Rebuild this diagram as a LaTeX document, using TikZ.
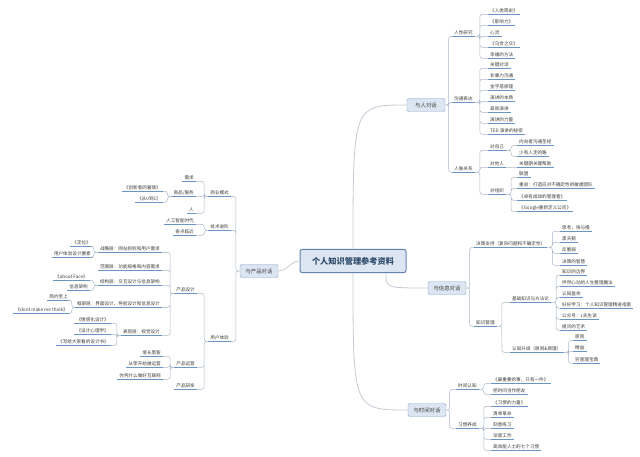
\documentclass[tikz,border=0pt]{standalone}
\usepackage{fontspec}
\setmainfont{Noto Sans CJK SC}
\definecolor{boxF}{HTML}{DCE6F2}
\definecolor{boxD}{HTML}{8AA6C8}
\definecolor{rootD}{HTML}{6283AE}
\definecolor{rootT}{HTML}{2E4A6B}
\definecolor{txt}{HTML}{3A3A3A}
\definecolor{ulC}{HTML}{6A93C6}
\definecolor{lineC}{HTML}{A9B7C9}
\definecolor{trunkC}{HTML}{C3CAD4}
\begin{document}
\begin{tikzpicture}[x=1pt,y=-1pt,
  uline/.style={draw=ulC, line width=0.6pt},
  leaf/.style={inner xsep=2pt, inner ysep=1pt, text=txt, font=\fontsize{4.6}{5}\selectfont,
    append after command={(\tikzlastnode.south west) edge[uline] (\tikzlastnode.south east)}},
  rl/.style={leaf, anchor=west},
  ll/.style={leaf, anchor=east},
  topic/.style={draw=boxD, fill=boxF, rounded corners=1.5pt, minimum width=38pt, minimum height=13pt,
    inner sep=1pt, text=txt, font=\fontsize{5.4}{6}\selectfont},
  root/.style={draw=rootD, fill=boxF, line width=1pt, rounded corners=2pt, minimum width=106pt,
    minimum height=23pt, text=rootT, font=\fontsize{8.2}{9}\selectfont\bfseries},
  link/.style={draw=lineC, line width=0.5pt, rounded corners=2.5pt},
  trunk/.style={draw=trunkC, line width=0.8pt}]

\useasboundingbox (0,0) rectangle (640,457);

% Center and main topics
\node[root] (kc) at (353,261) {个人知识管理参考资料};
\node[topic] (hr) at (426,105) {与人对话};
\node[topic] (hi) at (447,288) {与信息对话};
\node[topic] (ht) at (427,410) {与时间对话};
\node[topic] (hp) at (259,271) {与产品对话};

\draw[trunk] (kc.north) .. controls (kc.north |- hr.west) .. (hr.west);
\draw[trunk] (kc.340) .. controls (kc.340 |- hi.west) .. (hi.west);
\draw[trunk] (kc.south) .. controls (kc.south |- ht.west) .. (ht.west);
\draw[trunk] (kc.west) .. controls +(-10,0) and +(10,0) .. (hp.east);

% 与人对话
\node[rl] (hr1) at (452,33) {人性研究};
\node[rl] (hr2) at (452,99) {沟通表达};
\node[rl] (hr3) at (452,169) {人脉关系};
\node[rl] (hr1a) at (488,11) {《人类简史》};
\node[rl] (hr1b) at (488,22) {《影响力》};
\node[rl] (hr1c) at (488,33) {心流};
\node[rl] (hr1d) at (488,44) {《乌合之众》};
\node[rl] (hr1e) at (488,55) {幸福的方法};
\node[rl] (hr2a) at (488,65) {关键对话};
\node[rl] (hr2b) at (488,76) {非暴力沟通};
\node[rl] (hr2c) at (488,87) {金字塔原理};
\node[rl] (hr2d) at (488,98) {演讲的本质};
\node[rl] (hr2e) at (488,109) {高效演讲};
\node[rl] (hr2f) at (488,120) {演讲的力量};
\node[rl] (hr2g) at (488,131) {TED 演讲的秘密};
\node[rl] (hr3a) at (488,147) {对自己};
\node[rl] (hr3b) at (488,164) {对他人};
\node[rl] (hr3c) at (488,191) {对组织};
\node[rl] (hr3a1) at (517,142) {内向者沟通圣经};
\node[rl] (hr3a2) at (517,153) {少有人走的路};
\node[rl] (hr3b1) at (517,164) {关键期关键帮助};
\node[rl] (hr3c1) at (517,174) {联盟};
\node[rl] (hr3c2) at (517,185) {重启：打造应对不确定性的敏捷团队};
\node[rl] (hr3c3) at (517,197) {《卓有成效的管理者》};
\node[rl] (hr3c4) at (517,208) {《Google重新定义公司》};

\draw[link] (hr.east) -- ++(3.5,0) |- (hr1.south west)
  (hr.east) -- ++(3.5,0) |- (hr2.south west)
  (hr.east) -- ++(3.5,0) |- (hr3.south west);
\draw[link] (hr1.south east) -- ++(5,0) |- (hr1a.south west)
  (hr1.south east) -- ++(5,0) |- (hr1b.south west)
  (hr1.south east) -- ++(5,0) |- (hr1c.south west)
  (hr1.south east) -- ++(5,0) |- (hr1d.south west)
  (hr1.south east) -- ++(5,0) |- (hr1e.south west);
\draw[link] (hr2.south east) -- ++(5,0) |- (hr2a.south west)
  (hr2.south east) -- ++(5,0) |- (hr2b.south west)
  (hr2.south east) -- ++(5,0) |- (hr2c.south west)
  (hr2.south east) -- ++(5,0) |- (hr2d.south west)
  (hr2.south east) -- ++(5,0) |- (hr2e.south west)
  (hr2.south east) -- ++(5,0) |- (hr2f.south west)
  (hr2.south east) -- ++(5,0) |- (hr2g.south west);
\draw[link] (hr3.south east) -- ++(5,0) |- (hr3a.south west)
  (hr3.south east) -- ++(5,0) |- (hr3b.south west)
  (hr3.south east) -- ++(5,0) |- (hr3c.south west);
\draw[link] (hr3a.south east) -- ++(5,0) |- (hr3a1.south west)
  (hr3a.south east) -- ++(5,0) |- (hr3a2.south west);
\draw[link] (hr3b.south east) -- (hr3b1.south west);
\draw[link] (hr3c.south east) -- ++(5,0) |- (hr3c1.south west)
  (hr3c.south east) -- ++(5,0) |- (hr3c2.south west)
  (hr3c.south east) -- ++(5,0) |- (hr3c3.south west)
  (hr3c.south east) -- ++(5,0) |- (hr3c4.south west);

% 与信息对话
\node[rl] (hi1) at (474,244) {决策支持（复杂问题和不确定性）};
\node[rl] (hi2) at (474,323) {知识管理};
\node[rl] (hi1a) at (560,228) {思考，快与慢};
\node[rl] (hi1b) at (560,239) {黑天鹅};
\node[rl] (hi1c) at (560,250) {反脆弱};
\node[rl] (hi1d) at (560,262) {决策的智慧};
\node[rl] (hi2a) at (510,299) {基础知识与方法论};
\node[rl] (hi2b) at (510,349) {认知升级（原则\&原理）};
\node[rl] (hi2a1) at (560,272) {知识的边界};
\node[rl] (hi2a2) at (560,283) {怦然心动的人生整理魔法};
\node[rl] (hi2a3) at (560,294) {认知盈余};
\node[rl] (hi2a4) at (560,305) {好好学习：个人知识管理精进指南};
\node[rl] (hi2a5) at (560,316) {公众号：L先生说};
\node[rl] (hi2a6) at (560,327) {提问的艺术};
\node[rl] (hi2b1) at (573,337) {原则};
\node[rl] (hi2b2) at (573,348) {精益};
\node[rl] (hi2b3) at (573,360) {穷查理宝典};

\draw[link] (hi.east) -- ++(3.5,0) |- (hi1.south west)
  (hi.east) -- ++(3.5,0) |- (hi2.south west);
\draw[link] (hi1.south east) -- ++(5,0) |- (hi1a.south west)
  (hi1.south east) -- ++(5,0) |- (hi1b.south west)
  (hi1.south east) -- ++(5,0) |- (hi1c.south west)
  (hi1.south east) -- ++(5,0) |- (hi1d.south west);
\draw[link] (hi2.south east) -- ++(5,0) |- (hi2a.south west)
  (hi2.south east) -- ++(5,0) |- (hi2b.south west);
\draw[link] (hi2a.south east) -- ++(5,0) |- (hi2a1.south west)
  (hi2a.south east) -- ++(5,0) |- (hi2a2.south west)
  (hi2a.south east) -- ++(5,0) |- (hi2a3.south west)
  (hi2a.south east) -- ++(5,0) |- (hi2a4.south west)
  (hi2a.south east) -- ++(5,0) |- (hi2a5.south west)
  (hi2a.south east) -- ++(5,0) |- (hi2a6.south west);
\draw[link] (hi2b.south east) -- ++(5,0) |- (hi2b1.south west)
  (hi2b.south east) -- ++(5,0) |- (hi2b2.south west)
  (hi2b.south east) -- ++(5,0) |- (hi2b3.south west);

% 与时间对话
\node[rl] (ht1) at (456,386) {时间认知};
\node[rl] (ht2) at (456,425) {习惯养成};
\node[rl] (ht1a) at (491,380) {《最重要的事，只有一件》};
\node[rl] (ht1b) at (491,391) {把时间当作朋友};
\node[rl] (ht2a) at (491,403) {《习惯的力量》};
\node[rl] (ht2b) at (491,414) {清单革命};
\node[rl] (ht2c) at (491,425) {刻意练习};
\node[rl] (ht2d) at (491,436) {深度工作};
\node[rl] (ht2e) at (491,447) {高效能人士的七个习惯};

\draw[link] (ht.east) -- ++(3.5,0) |- (ht1.south west)
  (ht.east) -- ++(3.5,0) |- (ht2.south west);
\draw[link] (ht1.south east) -- ++(5,0) |- (ht1a.south west)
  (ht1.south east) -- ++(5,0) |- (ht1b.south west);
\draw[link] (ht2.south east) -- ++(5,0) |- (ht2a.south west)
  (ht2.south east) -- ++(5,0) |- (ht2b.south west)
  (ht2.south east) -- ++(5,0) |- (ht2c.south west)
  (ht2.south east) -- ++(5,0) |- (ht2d.south west)
  (ht2.south east) -- ++(5,0) |- (ht2e.south west);

% 与产品对话
\node[ll] (hp1) at (231,193) {商业模式};
\node[ll] (hp2) at (231,227) {技术进阶};
\node[ll] (hp3) at (231,338) {用户体验};
\node[ll] (hp1a) at (196,178) {需求};
\node[ll] (hp1b) at (196,193) {商品/服务};
\node[ll] (hp1c) at (196,210) {人};
\node[ll] (hp1b1) at (163,188) {《创新者的窘境》};
\node[ll] (hp1b2) at (163,199) {《从0到1》};
\node[ll] (hp2a) at (196,221) {人工智能时代};
\node[ll] (hp2b) at (196,232) {奇点临近};
\node[ll] (hp3a) at (197,290) {产品设计};
\node[ll] (hp3b) at (197,364) {产品运营};
\node[ll] (hp3c) at (197,386) {产品研发};
\node[ll] (hp3a1) at (162,249) {战略层：网站目标和用户需求};
\node[ll] (hp3a2) at (162,267) {范围层：功能规格和内容需求};
\node[ll] (hp3a3) at (162,282) {结构层：交互设计与信息架构};
\node[ll] (hp3a4) at (162,304) {框架层：界面设计、导航设计和信息设计};
\node[ll] (hp3a5) at (162,332) {表现层：视觉设计};
\node[ll] (hp3a1x) at (93,243) {《定位》};
\node[ll] (hp3a1y) at (93,254) {用户体验设计要素};
\node[ll] (hp3a3x) at (90,277) {《about Face》};
\node[ll] (hp3a3y) at (90,287) {信息架构};
\node[ll] (hp3a4x) at (70,297) {简约至上};
\node[ll] (hp3a4y) at (70,310) {《dont make me think》};
\node[ll] (hp3a5x) at (111,320) {《情感化设计》};
\node[ll] (hp3a5y) at (111,331) {《设计心理学》};
\node[ll] (hp3a5z) at (111,342) {《写给大家看的设计书》};
\node[ll] (hp3b1) at (163,353) {增长黑客};
\node[ll] (hp3b2) at (163,364) {从零开始做运营};
\node[ll] (hp3b3) at (163,376) {你凭什么做好互联网};

\draw[link] (hp.west) -- ++(-4,0) |- (hp1.south east)
  (hp.west) -- ++(-4,0) |- (hp2.south east)
  (hp.west) -- ++(-4,0) |- (hp3.south east);
\draw[link] (hp1.south west) -- ++(-4,0) |- (hp1a.south east)
  (hp1.south west) -- ++(-4,0) |- (hp1b.south east)
  (hp1.south west) -- ++(-4,0) |- (hp1c.south east);
\draw[link] (hp1b.south west) -- ++(-4,0) |- (hp1b1.south east)
  (hp1b.south west) -- ++(-4,0) |- (hp1b2.south east);
\draw[link] (hp2.south west) -- ++(-4,0) |- (hp2a.south east)
  (hp2.south west) -- ++(-4,0) |- (hp2b.south east);
\draw[link] (hp3.south west) -- ++(-4,0) |- (hp3a.south east)
  (hp3.south west) -- ++(-4,0) |- (hp3b.south east)
  (hp3.south west) -- ++(-4,0) |- (hp3c.south east);
\draw[link] (hp3a.south west) -- ++(-4,0) |- (hp3a1.south east)
  (hp3a.south west) -- ++(-4,0) |- (hp3a2.south east)
  (hp3a.south west) -- ++(-4,0) |- (hp3a3.south east)
  (hp3a.south west) -- ++(-4,0) |- (hp3a4.south east)
  (hp3a.south west) -- ++(-4,0) |- (hp3a5.south east);
\draw[link] (hp3a1.south west) -- ++(-4,0) |- (hp3a1x.south east)
  (hp3a1.south west) -- ++(-4,0) |- (hp3a1y.south east);
\draw[link] (hp3a3.south west) -- ++(-4,0) |- (hp3a3x.south east)
  (hp3a3.south west) -- ++(-4,0) |- (hp3a3y.south east);
\draw[link] (hp3a4.south west) -- ++(-3,0) |- (hp3a4x.south east)
  (hp3a4.south west) -- ++(-3,0) |- (hp3a4y.south east);
\draw[link] (hp3a5.south west) -- ++(-4,0) |- (hp3a5x.south east)
  (hp3a5.south west) -- ++(-4,0) |- (hp3a5y.south east)
  (hp3a5.south west) -- ++(-4,0) |- (hp3a5z.south east);
\draw[link] (hp3b.south west) -- ++(-4,0) |- (hp3b1.south east)
  (hp3b.south west) -- ++(-4,0) |- (hp3b2.south east)
  (hp3b.south west) -- ++(-4,0) |- (hp3b3.south east);

\end{tikzpicture}
\end{document}
